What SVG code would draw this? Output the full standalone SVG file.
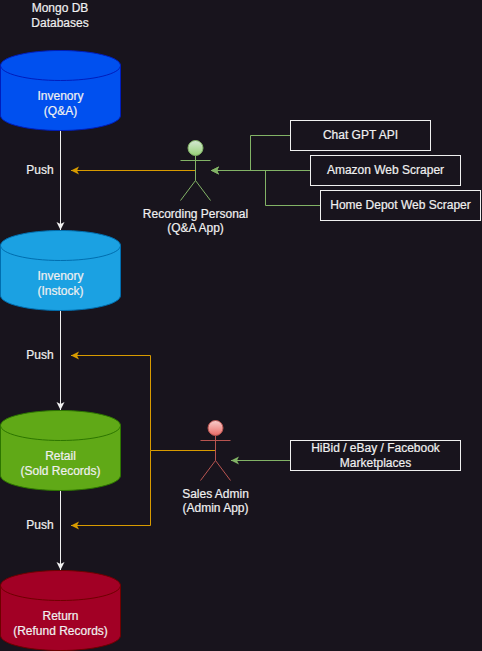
<svg xmlns="http://www.w3.org/2000/svg" width="482" height="651" viewBox="0 0 482 651">
<style>
text{font-family:"Liberation Sans",Arial,sans-serif;font-size:12px;fill:#f0f0f0;stroke:#f0f0f0;stroke-width:0.2px;text-anchor:middle}
.c{fill:none;stroke-miterlimit:10}
.w{stroke:#f0f0f0}.o{stroke:#d79b00}.g{stroke:#82b366}
.box{fill:#18141d;stroke:#f0f0f0}
.ag .s{fill:none;stroke:#82b366}.ar .s{fill:none;stroke:#b85450}
</style>
<defs>
<linearGradient id="gg" x1="0" y1="0" x2="0" y2="1"><stop offset="0" stop-color="#d5e8d4"/><stop offset="1" stop-color="#97d077"/></linearGradient>
<linearGradient id="gr" x1="0" y1="0" x2="0" y2="1"><stop offset="0" stop-color="#f8cecc"/><stop offset="1" stop-color="#ea6b66"/></linearGradient>
<marker id="mw" markerUnits="userSpaceOnUse" markerWidth="9" markerHeight="10" refX="8" refY="4" orient="auto" viewBox="0 0 9 8"><path d="M0 0L8 4L0 8L2 4Z" fill="#f0f0f0"/></marker>
<marker id="mo" markerUnits="userSpaceOnUse" markerWidth="9" markerHeight="10" refX="8" refY="4" orient="auto" viewBox="0 0 9 8"><path d="M0 0L8 4L0 8L2 4Z" fill="#d79b00"/></marker>
<marker id="mg" markerUnits="userSpaceOnUse" markerWidth="9" markerHeight="10" refX="8" refY="4" orient="auto" viewBox="0 0 9 8"><path d="M0 0L8 4L0 8L2 4Z" fill="#82b366"/></marker>
<path id="cyl" d="M0.5 65.5C0.5 57.2 27.4 50.5 60.5 50.5S120.5 57.2 120.5 65.5V115.5C120.5 123.8 93.6 130.5 60.5 130.5S0.5 123.8 0.5 115.5Z"/>
<path id="cylt" d="M0.5 65.5C0.5 73.8 27.4 80.5 60.5 80.5S120.5 73.8 120.5 65.5" fill="none"/>
</defs>
<rect width="482" height="651" fill="#18141d"/>
<g id="connectors">
<path class="c w" d="M60.5 130.5V230" marker-end="url(#mw)"/>
<path class="c w" d="M60.5 310.5V410" marker-end="url(#mw)"/>
<path class="c w" d="M60.5 490.5V570" marker-end="url(#mw)"/>
<path class="c o" d="M195.5 170.5H71" marker-end="url(#mo)"/>
<path class="c o" d="M215.5 450.5H150.5V355.5H71" marker-end="url(#mo)"/>
<path class="c o" d="M150.5 450.5V525.5H71" marker-end="url(#mo)"/>
<path class="c g" d="M310.5 170.5H211" marker-end="url(#mg)"/>
<path class="c g" d="M290.5 135.5H250.5V170.5H211" marker-end="url(#mg)"/>
<path class="c g" d="M320.5 205.5H265.5V170.5H211" marker-end="url(#mg)"/>
<path class="c g" d="M290.5 460.5H231" marker-end="url(#mg)"/>
</g>
<g id="label-mongo"><text x="60" y="12">Mongo DB</text><text x="60" y="27">Databases</text></g>
<g id="push-1"><text x="40" y="174">Push</text></g>
<g id="push-2"><text x="40" y="359">Push</text></g>
<g id="push-3"><text x="40" y="529">Push</text></g>
<g id="db-qa"><use href="#cyl" fill="#0050ef" stroke="#001dbc"/><use href="#cylt" stroke="#001dbc"/><text x="60.5" y="100">Invenory</text><text x="60.5" y="115">(Q&amp;A)</text></g>
<g id="db-instock" transform="translate(0 180)"><use href="#cyl" fill="#1ba1e2" stroke="#006eaf"/><use href="#cylt" stroke="#006eaf"/><text x="60.5" y="100">Invenory</text><text x="60.5" y="115">(Instock)</text></g>
<g id="db-retail" transform="translate(0 360)"><use href="#cyl" fill="#60a917" stroke="#2d7600"/><use href="#cylt" stroke="#2d7600"/><text x="60.5" y="100">Retail</text><text x="60.5" y="115">(Sold Records)</text></g>
<g id="db-return" transform="translate(0 520)"><use href="#cyl" fill="#a20025" stroke="#6f0000"/><use href="#cylt" stroke="#6f0000"/><text x="60.5" y="100">Return</text><text x="60.5" y="115">(Refund Records)</text></g>
<g id="actor-recording" class="ag"><circle cx="195.5" cy="148" r="7.5" fill="url(#gg)" stroke="#82b366"/><path class="s" d="M195.5 155.5V180.5M180.5 160.5H210.5M180.5 200.5L195.5 180.5L210.5 200.5"/><text x="195.5" y="218">Recording Personal</text><text x="195.5" y="232">(Q&amp;A App)</text></g>
<g id="actor-sales" class="ar"><circle cx="215.5" cy="428" r="7.5" fill="url(#gr)" stroke="#b85450"/><path class="s" d="M215.5 435.5V460.5M200.5 440.5H230.5M200.5 480.5L215.5 460.5L230.5 480.5"/><text x="215.5" y="498">Sales Admin</text><text x="215.5" y="512">(Admin App)</text></g>
<g id="box-chatgpt"><rect class="box" x="290.5" y="120.5" width="140" height="30"/><text x="360.5" y="139">Chat GPT API</text></g>
<g id="box-amazon"><rect class="box" x="310.5" y="155.5" width="150" height="30"/><text x="385.5" y="174">Amazon Web Scraper</text></g>
<g id="box-homedepot"><rect class="box" x="320.5" y="190.5" width="160" height="30"/><text x="400.5" y="209">Home Depot Web Scraper</text></g>
<g id="box-hibid"><rect class="box" x="290.5" y="440.5" width="170" height="30"/><text x="375.5" y="452">HiBid / eBay / Facebook</text><text x="375.5" y="467">Marketplaces</text></g>
</svg>
